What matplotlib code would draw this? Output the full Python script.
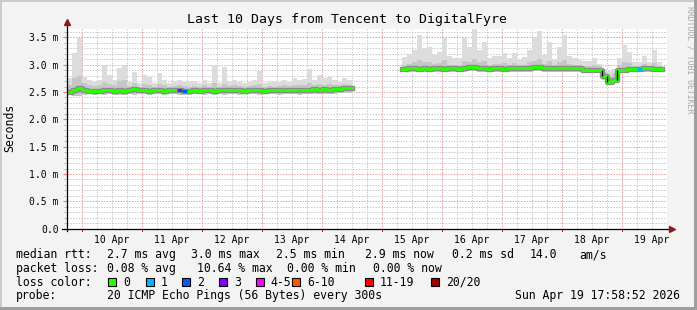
import matplotlib
matplotlib.use("Agg")
import matplotlib.pyplot as plt
import matplotlib.dates as mdates
from matplotlib.ticker import MultipleLocator, FuncFormatter
from matplotlib.patches import Rectangle
from datetime import datetime, timedelta
import numpy as np

W, H = 697, 310
nan = float("nan")

# ventana de 10 dias, una muestra cada 2 horas
start = datetime(2026, 4, 9, 17, 58, 52)
end = start + timedelta(days=10)
step_hours = 2

# mediana (ms)
med = [2.50, 2.54, 2.57, 2.53, 2.52, 2.52, 2.52, 2.53, 2.53, 2.52,
       2.53, 2.52, 2.53, 2.56, 2.54, 2.53, 2.52, 2.53, 2.53, 2.52,
       2.53, 2.53, 2.53, 2.52, 2.52, 2.53, 2.52, 2.53, 2.53, 2.52,
       2.53, 2.53, 2.53, 2.53, 2.53, 2.52, 2.53, 2.53, 2.53, 2.52,
       2.53, 2.53, 2.53, 2.53, 2.54, 2.53, 2.53, 2.53, 2.54, 2.55,
       2.54, 2.55, 2.54, 2.55, 2.56, 2.57, 2.57,
       nan, nan, nan, nan, nan, nan, nan, nan, nan, nan,
       2.92, 2.93, 2.93, 2.92, 2.93, 2.92, 2.93, 2.93, 2.92, 2.93,
       2.93, 2.92, 2.94, 2.95, 2.96, 2.94, 2.93, 2.92, 2.93, 2.93,
       2.92, 2.93, 2.93, 2.94, 2.93, 2.94, 2.95, 2.96, 2.94, 2.94,
       2.94, 2.93, 2.94, 2.94, 2.93, 2.93, 2.91, 2.91, 2.91, 2.90,
       2.80, 2.69, 2.71, 2.90, 2.91, 2.92, 2.92, 2.92, 2.93, 2.93, 2.92, 2.92,
       nan]

# humo: maximo
hi = [2.75, 3.21, 3.48, 2.78, 2.72, 2.69, 2.72, 2.99, 2.81, 2.72,
      2.93, 2.98, 2.69, 2.87, 2.66, 2.81, 2.78, 2.66, 2.85, 2.72,
      2.66, 2.70, 2.72, 2.69, 2.68, 2.70, 2.66, 2.72, 2.66, 2.99,
      2.66, 2.96, 2.69, 2.72, 2.69, 2.66, 2.69, 2.72, 2.88, 2.66,
      2.69, 2.68, 2.69, 2.72, 2.69, 2.76, 2.72, 2.74, 2.92, 2.72,
      2.81, 2.76, 2.78, 2.72, 2.69, 2.76, 2.72,
      nan, nan, nan, nan, nan, nan, nan, nan, nan, nan,
      3.14, 3.20, 3.27, 3.54, 3.30, 3.33, 3.18, 3.24, 3.48, 3.15,
      3.12, 3.12, 3.48, 3.33, 3.66, 3.27, 3.42, 3.12, 3.15, 3.15,
      3.21, 3.12, 3.21, 3.09, 3.14, 3.27, 3.48, 3.62, 3.18, 3.42,
      3.09, 3.33, 3.54, 3.15, 3.12, 3.09, 3.07, 3.07, 3.12, 3.02,
      2.92, 2.88, 2.92, 3.12, 3.36, 3.24, 3.05, 3.05, 3.15, 3.05, 3.27, 3.05,
      nan]

# humo: banda media superior
mid = [2.62, 2.75, 2.80, 2.66, 2.62, 2.61, 2.62, 2.68, 2.64, 2.62,
       2.70, 2.72, 2.61, 2.66, 2.60, 2.64, 2.63, 2.60, 2.64, 2.62,
       2.60, 2.61, 2.62, 2.61, 2.60, 2.61, 2.60, 2.62, 2.60, 2.66,
       2.60, 2.65, 2.61, 2.62, 2.61, 2.60, 2.61, 2.62, 2.64, 2.60,
       2.61, 2.60, 2.61, 2.62, 2.61, 2.63, 2.62, 2.63, 2.66, 2.62,
       2.64, 2.63, 2.64, 2.62, 2.62, 2.64, 2.63,
       nan, nan, nan, nan, nan, nan, nan, nan, nan, nan,
       3.00, 3.02, 3.04, 3.08, 3.04, 3.05, 3.01, 3.03, 3.08, 3.00,
       3.00, 3.00, 3.07, 3.05, 3.10, 3.04, 3.06, 3.00, 3.01, 3.01,
       3.03, 3.00, 3.03, 2.99, 3.00, 3.04, 3.07, 3.10, 3.02, 3.06,
       2.99, 3.04, 3.08, 3.01, 3.00, 2.99, 2.98, 2.98, 3.00, 2.97,
       2.86, 2.80, 2.84, 3.00, 3.05, 3.03, 2.98, 2.98, 3.01, 2.98, 3.03, 2.98,
       nan]

# humo: minimo
lo = [2.44, 2.42, 2.43, 2.45, 2.46, 2.45, 2.46, 2.45, 2.46, 2.45,
      2.45, 2.44, 2.46, 2.45, 2.46, 2.46, 2.45, 2.46, 2.46, 2.45,
      2.46, 2.46, 2.45, 2.44, 2.45, 2.46, 2.46, 2.45, 2.46, 2.44,
      2.46, 2.45, 2.46, 2.46, 2.45, 2.46, 2.46, 2.46, 2.45, 2.46,
      2.46, 2.46, 2.45, 2.46, 2.46, 2.46, 2.45, 2.46, 2.46, 2.47,
      2.46, 2.47, 2.47, 2.47, 2.48, 2.48, 2.48,
      nan, nan, nan, nan, nan, nan, nan, nan, nan, nan,
      2.86, 2.86, 2.87, 2.86, 2.87, 2.86, 2.86, 2.87, 2.86, 2.86,
      2.87, 2.86, 2.87, 2.88, 2.88, 2.87, 2.86, 2.86, 2.87, 2.86,
      2.86, 2.87, 2.86, 2.87, 2.87, 2.87, 2.88, 2.88, 2.87, 2.87,
      2.87, 2.86, 2.87, 2.87, 2.87, 2.86, 2.85, 2.85, 2.85, 2.84,
      2.72, 2.63, 2.66, 2.84, 2.85, 2.86, 2.86, 2.86, 2.87, 2.86, 2.86, 2.86,
      nan]

# muestras con perdidas (indice de muestra, pings perdidos)
loss_bins = [22, 23, 114]
loss_counts = [3, 2, 1]

loss_labels = ["0", "1", "2", "3", "4-5", "6-10", "11-19", "20/20"]
loss_colors = ["#26ff00", "#00b8ff", "#0059ff", "#7e00ff",
               "#ff00ff", "#ff5500", "#ff0000", "#a10000"]

rtt_stats = ["2.7 ms avg", "3.0 ms max", "2.5 ms min", "2.9 ms now",
             "0.2 ms sd", "14.0", "am/s"]
pl_stats = ["0.08 % avg", "10.64 % max", "0.00 % min", "0.00 % now"]
probe_text = "20 ICMP Echo Pings (56 Bytes) every 300s"
stamp = "Sun Apr 19 17:58:52 2026"
title = "Last 10 Days from Tencent to DigitalFyre"

MONO = "DejaVu Sans Mono"


def loss_index(n):
    if n <= 3:
        return n
    if n <= 5:
        return 4
    if n <= 10:
        return 5
    if n <= 19:
        return 6
    return 7


def fx(x):
    return x / W


def fy(y):
    return 1 - y / H


fig = plt.figure(figsize=(W / 100, H / 100), dpi=100, facecolor="#f3f3f3")

# marco 3D estilo rrdtool
for (x0, y0, w, h, c) in [(0, 0, 2, H, "#cbcbcb"), (0, 0, W, 2, "#cbcbcb"),
                          (W - 3, 0, 3, H, "#9e9e9e"), (0, H - 3, W, 3, "#9e9e9e")]:
    fig.patches.append(Rectangle((fx(x0), fy(y0 + h)), w / W, h / H,
                                 transform=fig.transFigure, color=c, lw=0))

ax = fig.add_axes([fx(67), fy(228.7), 600 / W, 200 / H])
ax.set_facecolor("white")

n = len(med)
edges = mdates.date2num([start + timedelta(hours=step_hours * i) for i in range(n + 1)])
xs = np.column_stack([edges[:-1], edges[1:]]).ravel()


def dbl(a):
    return np.repeat(np.array(a, float), 2)


ax.fill_between(xs, dbl(lo), dbl(hi), color="#dcdcdc", lw=0, zorder=1)
ax.fill_between(xs, dbl(lo), dbl(mid), color="#c6c6c6", lw=0, zorder=1.1)
ax.plot(xs, dbl(med), color="#8a8a8a", lw=3.8, zorder=1.2)
ax.plot(xs, dbl(med), color=loss_colors[0], lw=2.2, zorder=1.4)

# saltos grandes de la mediana en negro
m = np.array(med, float)
for i in range(1, n):
    if abs(m[i] - m[i - 1]) > 0.05:
        ax.vlines(edges[i], m[i - 1], m[i], color="black", lw=1.0, zorder=1.45)

# tramos con perdidas, pintados encima
for b, c in zip(loss_bins, loss_counts):
    ax.hlines(med[b], edges[b], edges[b + 1], colors=loss_colors[loss_index(c)], lw=2.2, zorder=1.5)

x0n = mdates.date2num(start)
x1n = mdates.date2num(end)
ax.set_xlim(x0n, x1n)
ax.set_ylim(0, 200 / 54.69)

for s in ax.spines.values():
    s.set_visible(False)

dots = (0, (1.4, 1.4))
ax.set_axisbelow(True)

# eje x: etiquetas al mediodia, rejilla cada 6 h, rojo a medianoche
ax.xaxis.set_major_locator(mdates.HourLocator(byhour=[12]))
ax.xaxis.set_major_formatter(mdates.DateFormatter("%d %b"))
ax.xaxis.set_minor_locator(mdates.HourLocator(byhour=[0, 6, 12, 18]))
ax.xaxis.remove_overlapping_locs = False
ax.xaxis.grid(False, which="major")
ax.xaxis.grid(True, which="minor", color="#c8c8c8", linestyle=dots, lw=0.72)
for d in mdates.DayLocator().tick_values(start, end):
    if x0n < d < x1n:
        ax.axvline(d, color="#eea0a0", linestyle=dots, lw=0.72, zorder=0.6)
        ax.plot([d, d], [0, -0.012], transform=ax.get_xaxis_transform(),
                color="#b03030", lw=0.72, clip_on=False)
ax.tick_params(axis="x", which="both", length=0, pad=4.5, labelsize=7)

# eje y
ax.yaxis.set_major_locator(MultipleLocator(0.5))
ax.yaxis.set_minor_locator(MultipleLocator(0.1))
ax.yaxis.set_major_formatter(FuncFormatter(lambda v, p: "0.0" if abs(v) < 1e-9 else "%.1f m" % v))
ax.yaxis.grid(True, which="major", color="#eea0a0", linestyle=dots, lw=0.72)
ax.yaxis.grid(True, which="minor", color="#c8c8c8", linestyle=dots, lw=0.72)
ax.tick_params(axis="y", which="major", length=3, color="#e08080", pad=2.9, labelsize=7)
ax.tick_params(axis="y", which="minor", length=2, color="#b0b0b0")
for lab in ax.get_xticklabels() + ax.get_yticklabels():
    lab.set_family(MONO)

# ejes con flechas
ax.plot([-0.009, 1.003], [0, 0], transform=ax.transAxes, color="black", lw=0.9, clip_on=False, zorder=3)
ax.plot([0, 0], [-0.012, 1.025], transform=ax.transAxes, color="black", lw=0.9, clip_on=False, zorder=3)
ax.plot([1.008], [0], transform=ax.transAxes, marker=">", ms=4, color="#8b1a1a", clip_on=False, zorder=3)
ax.plot([0], [1.032], transform=ax.transAxes, marker="^", ms=4, color="#8b1a1a", clip_on=False, zorder=3)

fig.text(fx(347), fy(19.3), title, ha="center", va="center", family=MONO, size=9.5)
fig.text(fx(10), fy(128), "Seconds", ha="center", va="center", rotation=90, family=MONO, size=8.3)
fig.text(fx(690), fy(60), "RRDTOOL / TOBI OETIKER", ha="center", va="center", rotation=270,
         family=MONO, size=5.9, color="#a8a8a8")

# leyenda
row_y = [254.7, 268.3, 282.3, 296.0]
fs = 8.3
fig.text(fx(16), fy(row_y[0]), "median rtt:", va="center", family=MONO, size=fs)
for x, s in zip([107, 191, 276, 365, 451.7, 530, 579.3], rtt_stats):
    fig.text(fx(x), fy(row_y[0]), s, va="center", family=MONO, size=fs)

fig.text(fx(16), fy(row_y[1]), "packet loss:", va="center", family=MONO, size=fs)
for x, s in zip([107, 196.7, 286.7, 372.7], pl_stats):
    fig.text(fx(x), fy(row_y[1]), s, va="center", family=MONO, size=fs)

fig.text(fx(16), fy(row_y[2]), "loss color:", va="center", family=MONO, size=fs)
for x, lab, c in zip([108.3, 145.7, 182.3, 219, 255.7, 292.3, 365, 430.7], loss_labels, loss_colors):
    fig.patches.append(Rectangle((fx(x), fy(row_y[2] + 4)), 8 / W, 8 / H, transform=fig.transFigure,
                                 facecolor=c, edgecolor="black", lw=0.8))
    fig.text(fx(x + 15), fy(row_y[2]), lab, va="center", family=MONO, size=fs)

fig.text(fx(16), fy(row_y[3]), "probe:", va="center", family=MONO, size=fs)
fig.text(fx(107), fy(row_y[3]), probe_text, va="center", family=MONO, size=fs)
fig.text(fx(680), fy(row_y[3]), stamp, va="center", ha="right", family=MONO, size=fs)

fig.savefig("out.png", dpi=100, facecolor=fig.get_facecolor())
